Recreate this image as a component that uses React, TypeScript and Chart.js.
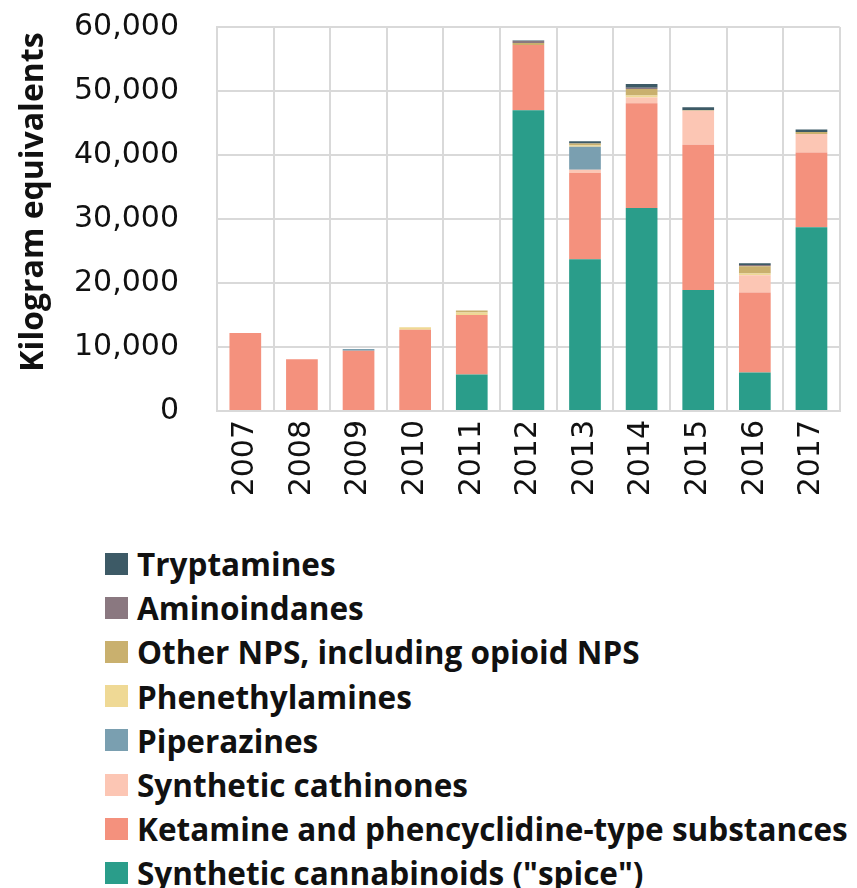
import React, { useEffect, useRef } from "react";
import { Chart, registerables } from "chart.js";

Chart.register(...registerables);

const years = ["2007", "2008", "2009", "2010", "2011", "2012", "2013", "2014", "2015", "2016", "2017"];

const cannabinoids = [0, 0, 0, 0, 5700, 47000, 23700, 31700, 18900, 6000, 28700];
const ketamine = [12200, 8100, 9400, 12700, 9300, 10200, 13500, 16400, 22700, 12500, 11700];
const cathinones = [0, 0, 0, 0, 0, 0, 500, 900, 5300, 2700, 2900];
const piperazines = [0, 0, 300, 0, 0, 0, 3600, 0, 0, 0, 0];
const phenethylamines = [0, 0, 0, 400, 400, 0, 200, 300, 0, 300, 0];
const otherNps = [0, 0, 0, 0, 300, 300, 300, 1000, 100, 1100, 300];
const aminoindanes = [0, 0, 0, 0, 0, 300, 0, 200, 0, 200, 0];
const tryptamines = [0, 0, 0, 0, 0, 100, 350, 600, 450, 300, 400];

const yTicks = [0, 10000, 20000, 30000, 40000, 50000, 60000];
const yTitle = "Kilogram equivalents";

const series = [
  { label: 'Synthetic cannabinoids ("spice")', data: cannabinoids, color: "#2a9d8a" },
  { label: "Ketamine and phencyclidine-type substances", data: ketamine, color: "#f4917d" },
  { label: "Synthetic cathinones", data: cathinones, color: "#fcc6b4" },
  { label: "Piperazines", data: piperazines, color: "#7a9fb0" },
  { label: "Phenethylamines", data: phenethylamines, color: "#efd995" },
  { label: "Other NPS, including opioid NPS", data: otherNps, color: "#c9b06e" },
  { label: "Aminoindanes", data: aminoindanes, color: "#8a7880" },
  { label: "Tryptamines", data: tryptamines, color: "#3d5a66" },
];

const W = 857;
const H = 520;
const LABEL_FONT = "Open Sans";

const yTitlePlugin = {
  id: "yTitlePlugin",
  afterDraw(chart: any) {
    const { ctx, chartArea } = chart;
    ctx.save();
    ctx.translate(34, (chartArea.top + chartArea.bottom) / 2 - 17);
    ctx.rotate(-Math.PI / 2);
    ctx.font = `bold 32px "${LABEL_FONT}"`;
    ctx.fillStyle = "#111";
    ctx.textAlign = "center";
    ctx.textBaseline = "middle";
    ctx.fillText(yTitle, 0, 0);
    ctx.restore();
  },
};

export default function App() {
  const ref = useRef<HTMLCanvasElement>(null);

  useEffect(() => {
    const chart = new Chart(ref.current!, {
      type: "bar",
      data: {
        labels: years,
        datasets: series.map((s) => ({
          label: s.label,
          data: s.data,
          backgroundColor: s.color,
          borderWidth: 0,
          categoryPercentage: 1,
          barPercentage: 0.56,
        })),
      },
      plugins: [yTitlePlugin],
      options: {
        responsive: false,
        animation: false,
        layout: { padding: { top: 0, right: 12, left: 0, bottom: 0 } },
        plugins: {
          legend: { display: false },
          tooltip: { enabled: false },
        },
        scales: {
          x: {
            stacked: true,
            grid: { color: "#d9d9d9", lineWidth: 2, drawTicks: false, offset: true },
            border: { color: "#d9d9d9", width: 2 },
            ticks: {
              color: "#111",
              font: { family: "DejaVu Sans", size: 30 },
              minRotation: 90,
              maxRotation: 90,
              padding: 9,
              autoSkip: false,
            },
            afterFit: (scale: any) => {
              scale.height = H - 411;
            },
          },
          y: {
            stacked: true,
            min: 0,
            max: 60000,
            afterBuildTicks: (scale: any) => {
              scale.ticks = yTicks.map((v) => ({ value: v }));
            },
            grid: { color: "#d9d9d9", lineWidth: 2, drawTicks: false },
            border: { color: "#d9d9d9", width: 2 },
            ticks: {
              color: "#111",
              font: { family: "DejaVu Sans", size: 30 },
              padding: 38,
              callback: (v: any) => Number(v).toLocaleString("en-US"),
            },
            afterFit: (scale: any) => {
              scale.width = 217;
              scale.paddingTop = 27;
              scale.paddingBottom = 0;
            },
          },
        },
      },
    });
    return () => chart.destroy();
  }, []);

  const legendItems = [...series].reverse();

  return (
    <div style={{ position: "fixed", left: 0, top: 0, width: W, height: 888, background: "#fff", overflow: "hidden" }}>
      <canvas ref={ref} width={W} height={H} style={{ position: "absolute", left: 0, top: 0, width: W, height: H }} />
      {legendItems.map((s, i) => (
        <div
          key={s.label}
          style={{
            position: "absolute",
            left: 105,
            top: 563.5 + i * 44.2 - 20,
            height: 40,
            display: "flex",
            alignItems: "center",
            whiteSpace: "nowrap",
            fontFamily: LABEL_FONT,
            fontWeight: 700,
            fontSize: 31.5,
            color: "#111",
          }}
        >
          <span style={{ display: "inline-block", width: 23, height: 22, background: s.color, marginRight: 9 }} />
          <span>{s.label}</span>
        </div>
      ))}
    </div>
  );
}
